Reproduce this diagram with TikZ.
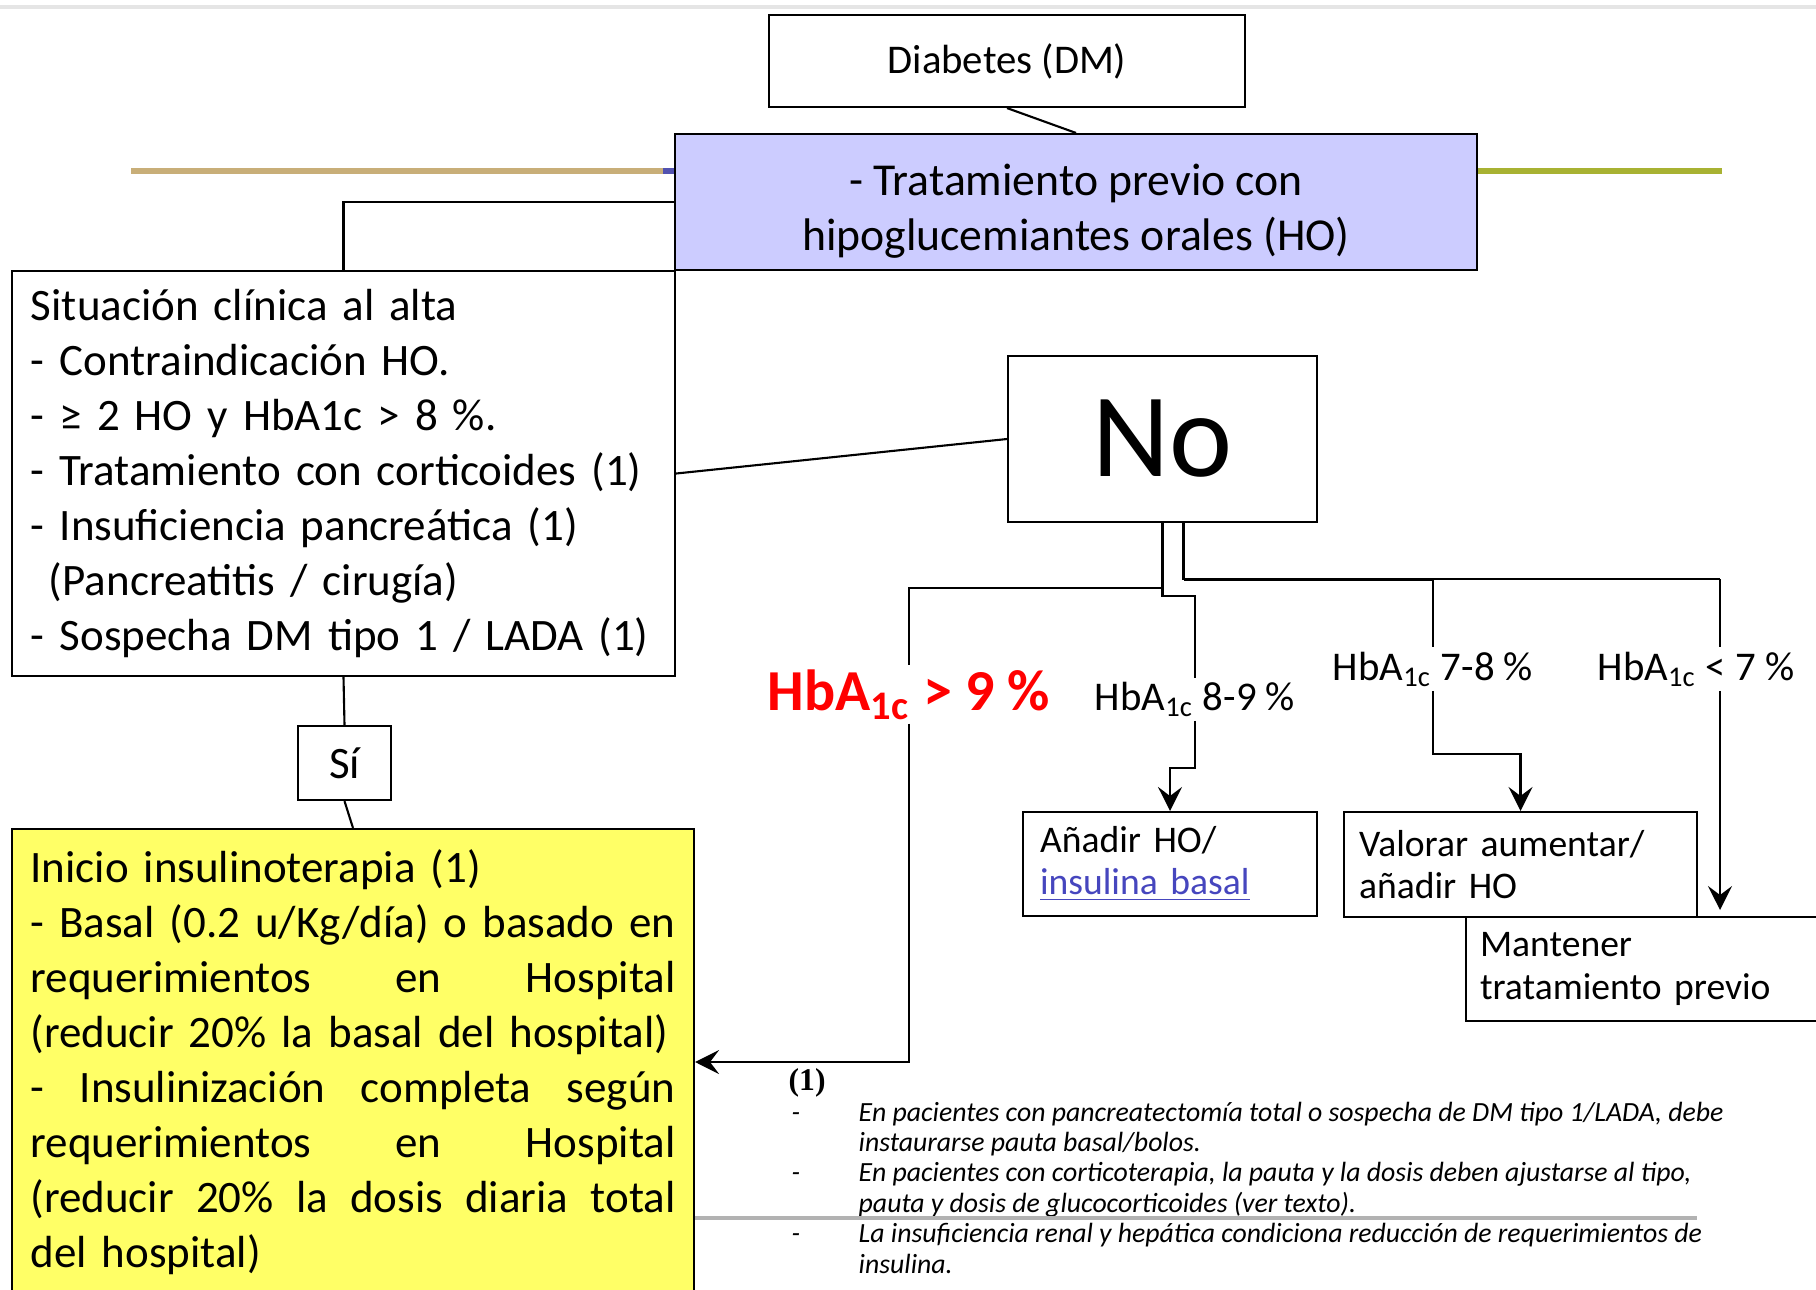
\documentclass[tikz,border=0pt]{standalone}
\usepackage{fontspec}
\setmainfont{Carlito}
\newfontfamily\notefont{Liberation Serif}
\usetikzlibrary{positioning, arrows.meta}
\definecolor{boxblue}{HTML}{CCCCFF}
\definecolor{boxyellow}{HTML}{FFFF66}
\definecolor{tanline}{HTML}{C8AE78}
\definecolor{oliveline}{HTML}{A8B232}
\definecolor{bluebit}{HTML}{5252B0}
\definecolor{linkblue}{HTML}{4646BE}
\newcommand{\hba}{HbA\textsubscript{1c}}

\begin{document}
\begin{tikzpicture}[
    box/.style={draw,
      line width=0.6pt,
      inner ysep=0pt,
      inner xsep=0.17cm},
    body/.style={font=\fontsize{12.8}{15.65}\selectfont},
    small/.style={font=\fontsize{10.7}{12}\selectfont},
    level/.style={font=\fontsize{11.6}{14}\selectfont, inner sep=1pt},
    note/.style={font=\itshape\fontsize{7.9}{8.65}\selectfont,
      anchor=north west, inner sep=0pt, align=left},
    link/.style={line width=0.6pt},
    arrow/.style={link, -{Stealth[length=2.4mm, width=2.4mm, inset=0.9mm]}},
    band/.style={line width=1.5pt}]

  \useasboundingbox (0,0) rectangle (18.16,-12.89);
  \draw[gray!20, line width=1pt] (0,-0.07) -- (18.16,-0.07);

  % TOP

  \node[box, minimum width=4.76cm, minimum height=0.92cm,
    font=\fontsize{11.6}{14}\selectfont] (dm) at (10.07,-0.61) {Diabetes (DM)};

  \draw[band, tanline] (1.31,-1.71) -- (6.63,-1.71);
  \draw[band, bluebit] (6.63,-1.71) -- (6.75,-1.71);
  \draw[band, oliveline] (14.77,-1.71) -- (17.22,-1.71);

  \node[box, fill=boxblue, minimum width=8.02cm, minimum height=1.36cm,
    align=center, font=\fontsize{13}{15.5}\selectfont] (prev) at (10.76,-2.02) {
    \rule{0pt}{0.5cm}- Tratamiento previo con\\
    hipoglucemiantes orales (HO)
  };

  % LEFT SIDE

  \node[box, body, text width=6.25cm, minimum height=4.05cm,
    inner xsep=0.19cm, align=left] (sit) at (3.435,-4.735) {
    Situación clínica al alta\\
    - Contraindicación HO.\\
    - ≥ 2 HO y HbA1c > 8 \%.\\
    - Tratamiento con corticoides (1)\\
    - Insuficiencia pancreática (1)\\
    \hspace*{0.18cm}(Pancreatitis / cirugía)\\
    - Sospecha DM tipo 1 / LADA (1)
  };

  \node[box, body, minimum width=0.93cm, minimum height=0.74cm] (si) at (3.445,-7.63) {Sí};

  \node[box, body, fill=boxyellow, text width=6.45cm, minimum height=4.66cm,
    inner xsep=0.185cm, align=left] (ins) at (3.53,-10.62) {
    Inicio insulinoterapia (1)\\
    - Basal (0.2 u/Kg/día) o basado en\\
    \makebox[6.45cm][s]{requerimientos \hfill en \hfill Hospital}\\
    (reducir 20\% la basal del hospital)\\
    \makebox[6.45cm][s]{- \hfill Insulinización \hfill completa \hfill según}\\
    \makebox[6.45cm][s]{requerimientos \hfill en \hfill Hospital}\\
    \makebox[6.45cm][s]{(reducir \hfill 20\% \hfill la \hfill dosis \hfill diaria \hfill total}\\
    del hospital)
  };

  % RIGHT SIDE

  \node[box, minimum width=3.09cm, minimum height=1.66cm,
    font=\fontsize{34}{40}\selectfont] (no) at (11.625,-4.39) {No};

  \node[level, text=red, font=\bfseries\fontsize{16.5}{18}\selectfont,
    anchor=base] (h9) at (9.09,-7.10) {\hba{} > 9 \%};
  \node[level, anchor=base] (h89) at (11.95,-7.10) {\hba{} 8-9 \%};
  \node[level, anchor=base] (h78) at (14.33,-6.80) {\hba{} 7-8 \%};
  \node[level, anchor=base] (h7) at (16.96,-6.80) {\hba{} < 7 \%};

  \node[box, small, text width=2.6cm, minimum height=1.04cm, align=left] (add) at (11.70,-8.64) {
    Añadir HO/\\
    \textcolor{linkblue}{\underline{insulina basal}}
  };
  \node[box, small, text width=3.23cm, minimum height=1.05cm,
    inner xsep=0.15cm, align=left] (val) at (15.205,-8.645) {
    Valorar aumentar/\\
    añadir HO
  };
  \node[box, small, text width=3.36cm, minimum height=1.04cm,
    inner xsep=0.14cm, align=left] (keep) at (16.48,-9.69) {
    Mantener\\
    tratamiento previo
  };

  % FOOTNOTE

  \node[font=\notefont\bfseries\fontsize{9}{10}\selectfont, anchor=base west,
    inner sep=0pt] (fnmark) at (7.88,-10.90) {(1)};
  \node[note] (fndash) at (7.91,-10.99) {\strut-\\[8.65pt]-\\[8.65pt]-};
  \node[note] (fn) at (8.58,-10.99) {
    \strut En pacientes con pancreatectomía total o sospecha de DM tipo 1/LADA, debe\\
    instaurarse pauta basal/bolos.\\
    En pacientes con corticoterapia, la pauta y la dosis deben ajustarse al tipo,\\
    pauta y dosis de glucocorticoides (ver texto).\\
    La insuficiencia renal y hepática condiciona reducción de requerimientos de\\
    insulina.
  };
  \draw[gray!60, line width=0.9pt] (ins.east |- 0,-12.18) -- (16.97,-12.18);

  % CONNECTORS

  \draw[link] (dm.south) -- (prev.north);
  \draw[link] (prev.west) -| (sit.north);
  \draw[link] (sit.east) -- (no.west);
  \draw[link] (sit.south) -- (si.north);
  \draw[link] (si.south) -- (ins.north);

  \coordinate (nr) at ([xshift=0.21cm]no.south);
  \coordinate (t7) at (17.20,-5.79);
  \coordinate (e7) at (17.20,-9.10);

  \draw[link] (no.south) -- ++(0,-0.65) -| (h9.north);
  \draw[link] (no.south) -- ++(0,-0.73) -| (h89.north);
  \draw[link] (nr) |- (t7);
  \draw[link] (nr) ++(0,-0.57) -| (h78.north);
  \draw[link] (t7) -- (t7 |- h7.north);

  \draw[arrow] (h9.south) |- (ins.east);
  \draw[arrow] (h89.south) -- (h89.south |- 0,-7.68) -| (add.north);
  \draw[arrow] (h78.south) -- (h78.south |- 0,-7.54) -| (val.north);
  \draw[arrow] (e7 |- h7.south) -- (e7);

\end{tikzpicture}
\end{document}
